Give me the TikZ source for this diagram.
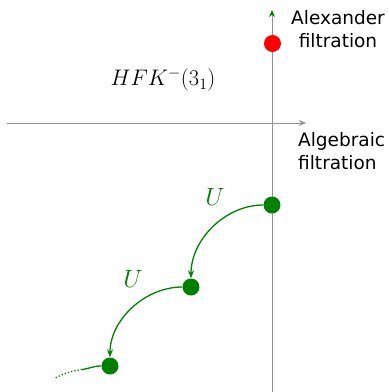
\RequirePackage{fix-cm}
\documentclass[tikz,border=0pt]{standalone}
\usepackage{fontspec}
\newfontfamily\labelfont{DejaVu Sans}
\usetikzlibrary{arrows.meta}
\definecolor{dgreen}{RGB}{0,128,0}
\definecolor{axgray}{RGB}{145,145,145}
\tikzset{
  axis/.style={draw=axgray, line width=1pt},
  dot/.style={circle, fill=dgreen, inner sep=0pt, minimum size=17pt},
  reddot/.style={circle, fill=red, inner sep=0pt, minimum size=17pt},
  uarrow/.style={draw=dgreen, line width=1.3pt, -{Stealth[length=8pt,width=6pt]}},
  ulabel/.style={text=dgreen, font=\fontsize{25}{30}\selectfont},
  axlabel/.style={font=\labelfont\fontsize{18.5}{23}\selectfont, inner sep=0pt}
}
\begin{document}
\begin{tikzpicture}[x=1pt, y=-1pt]
\useasboundingbox (0,0) rectangle (389,392);
\coordinate (vb) at (272,392);
\coordinate (vt) at (272,10);
\coordinate (hl) at (7,123);
\coordinate (hr) at (306,123);
\draw[axis, -{Stealth[length=7pt,width=6pt,color=dgreen]}] (vb) -- (vt);
\draw[axis, -{Stealth[length=7pt,width=6pt]}] (hl) -- (hr);
\node[reddot] (r) at (272.5,43.5) {};
\node[dot] (g1) at (272,205) {};
\node[dot] (g2) at (191,287) {};
\node[dot] (g3) at (110,366) {};
\coordinate (t1) at (82,369.5);
\coordinate (t2) at (55,378);
\draw[uarrow] (g1.west) to[out=180, in=90, looseness=0.95] (g2.north);
\draw[uarrow] (g2.west) to[out=180, in=90, looseness=0.95] (g3.north);
\draw[draw=dgreen, line width=1.3pt] (g3.west) to[out=180, in=8] (t1);
\draw[draw=dgreen, line width=1.3pt, dotted] (t1) to[out=188, in=25] (t2);
\node[ulabel] (u1) at (215,197) {$U$};
\node[ulabel] (u2) at (133,279) {$U$};
\node[font=\fontsize{22.5}{26}\selectfont] (h) at (163,80) {$HFK^{-}(3_1)$};
\node[axlabel, align=center] (alex) at (338,29) {Alexander\\filtration};
\node[axlabel, align=left, anchor=west] (alg) at (298,151) {Algebraic\\filtration};
\end{tikzpicture}
\end{document}
